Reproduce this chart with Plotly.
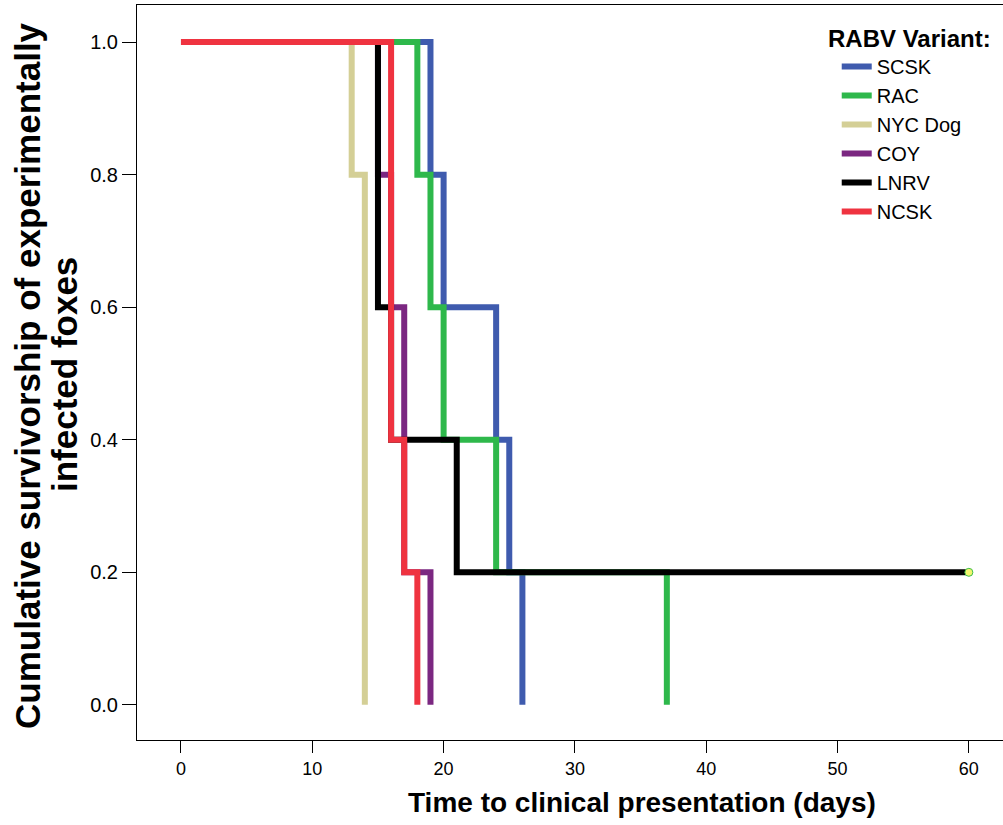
import plotly.graph_objects as go

variants = ["SCSK", "RAC", "NYC Dog", "COY", "LNRV", "NCSK"]
colors = ["#3F5BAE", "#2EB84B", "#D4CF96", "#7B2781", "#000000", "#EF3340"]
times = [
    [0, 19, 20, 24, 25, 26],
    [0, 18, 19, 20, 24, 37],
    [0, 13, 14],
    [0, 15, 16, 17, 19],
    [0, 15, 16, 21, 60],
    [0, 16, 17, 18],
]
survival = [
    [1.0, 0.8, 0.6, 0.4, 0.2, 0.0],
    [1.0, 0.8, 0.6, 0.4, 0.2, 0.0],
    [1.0, 0.8, 0.0],
    [1.0, 0.8, 0.6, 0.2, 0.0],
    [1.0, 0.6, 0.4, 0.2, 0.2],
    [1.0, 0.4, 0.2, 0.0],
]
censored_time = [60]
censored_surv = [0.2]

x_ticks = [0, 10, 20, 30, 40, 50, 60]
y_ticks = [0.0, 0.2, 0.4, 0.6, 0.8, 1.0]

fig = go.Figure()
for name, c, t, s in zip(variants, colors, times, survival):
    fig.add_trace(go.Scatter(x=t, y=s, mode="lines", name=name,
                             line=dict(color=c, width=6, shape="hv")))
fig.add_trace(go.Scatter(x=censored_time, y=censored_surv, mode="markers",
                         showlegend=False,
                         marker=dict(color="#F2F56E", size=8,
                                     line=dict(color="#3DBE4A", width=1))))

font = "Liberation Sans, Arial, sans-serif"
fig.update_layout(
    width=1003, height=825,
    margin=dict(l=137, r=0, t=5, b=85),
    plot_bgcolor="white", paper_bgcolor="white",
    font=dict(family=font, color="black"),
    showlegend=True,
    legend=dict(x=0.808, y=0.943, xanchor="left", yanchor="top",
                bgcolor="rgba(0,0,0,0)", font=dict(size=20, color="black"),
                tracegroupgap=0, itemwidth=30),
    xaxis=dict(range=[-3.35, 62.6], tickvals=x_ticks, ticks="outside",
               ticklen=12, tickcolor="black", showgrid=False, zeroline=False,
               showline=True, linecolor="black", linewidth=1, mirror=True,
               tickfont=dict(size=18)),
    yaxis=dict(range=[-0.053, 1.056], tickvals=y_ticks, tickformat=".1f",
               ticks="outside", ticklen=14, tickcolor="black", showgrid=False,
               zeroline=False, showline=True, linecolor="black", linewidth=1,
               mirror=True, tickfont=dict(size=20)),
    annotations=[
        dict(text="<b>RABV Variant:</b>", xref="paper", yref="paper",
             x=0.988, y=0.955, xanchor="right", yanchor="middle",
             showarrow=False, font=dict(size=24, color="black")),
        dict(text="<b>Time to clinical presentation (days)</b>", xref="paper",
             yref="paper", x=0.583, y=-0.0857, xanchor="center",
             yanchor="middle", showarrow=False,
             font=dict(size=28, color="black")),
        dict(text="<b>Cumulative survivorship of experimentally</b>",
             xref="paper", yref="paper", x=-0.1259, y=0.4966,
             xanchor="center", yanchor="middle", textangle=-90,
             showarrow=False, font=dict(size=35, color="black")),
        dict(text="<b>infected foxes</b>",
             xref="paper", yref="paper", x=-0.0831, y=0.4966,
             xanchor="center", yanchor="middle", textangle=-90,
             showarrow=False, font=dict(size=35, color="black")),
    ],
)
fig.write_html("out.html")
